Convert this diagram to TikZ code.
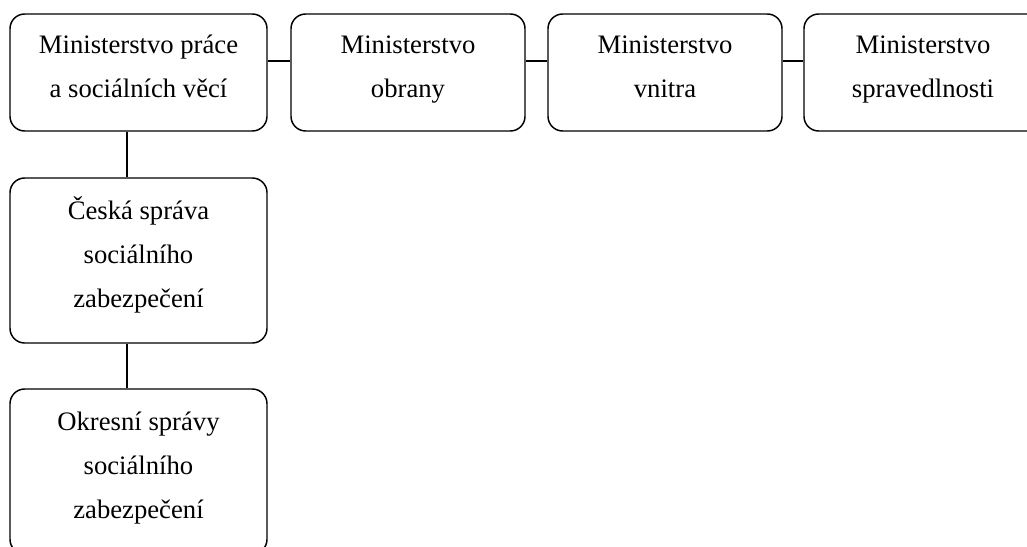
\documentclass[tikz,border=0pt]{standalone}
\usepackage{fontspec}
\setmainfont{Liberation Serif}
\usetikzlibrary{positioning}

\newcommand{\rowstrut}{\rule[-14.6pt]{0pt}{33pt}}

\tikzset{
    office/.style={draw, rounded corners=11pt, line width=1.1pt, align=center,
        inner sep=0pt, font=\fontsize{20}{33}\selectfont},
    wide/.style={office, minimum width=192.75pt},
    narrow/.style={office, minimum width=175.5pt},
    link/.style={line width=1.1pt}
}

\begin{document}
\begin{tikzpicture}[x=0.75pt, y=-0.75pt]
            \useasboundingbox (0,0) rectangle (1027,546);
            \clip (0,0) rectangle (1027,546);

            \node[wide, minimum height=87.75pt] (mpsv) at (138.5,72.5) {Ministerstvo práce\rowstrut\\a sociálních věcí\rowstrut};
            \node[narrow, minimum height=87.75pt] (mo) at (408,72.5) {Ministerstvo\rowstrut\\obrany\rowstrut};
            \node[narrow, minimum height=87.75pt] (mv) at (665,72.5) {Ministerstvo\rowstrut\\vnitra\rowstrut};
            \node[office, minimum width=178.5pt, minimum height=87.75pt] (ms) at (923,72.5) {Ministerstvo\rowstrut\\spravedlnosti\rowstrut};

            \node[wide, minimum height=123.75pt] (cssz) at (138.5,260.5) {Česká správa\rowstrut\\sociálního\rowstrut\\zabezpečení\rowstrut};
            \node[wide, minimum height=123.75pt] (ossz) at (138.5,471.5) {Okresní správy\rowstrut\\sociálního\rowstrut\\zabezpečení\rowstrut};

            \draw[link] (mpsv.east |- 0,61) -- (mo.west |- 0,61);
            \draw[link] (mo.east |- 0,61) -- (mv.west |- 0,61);
            \draw[link] (mv.east |- 0,61) -- (ms.west |- 0,61);

            \draw[link] (mpsv.south -| 127,0) -- (cssz.north -| 127,0);
            \draw[link] (cssz.south -| 127,0) -- (ossz.north -| 127,0);
        \end{tikzpicture}
\end{document}
